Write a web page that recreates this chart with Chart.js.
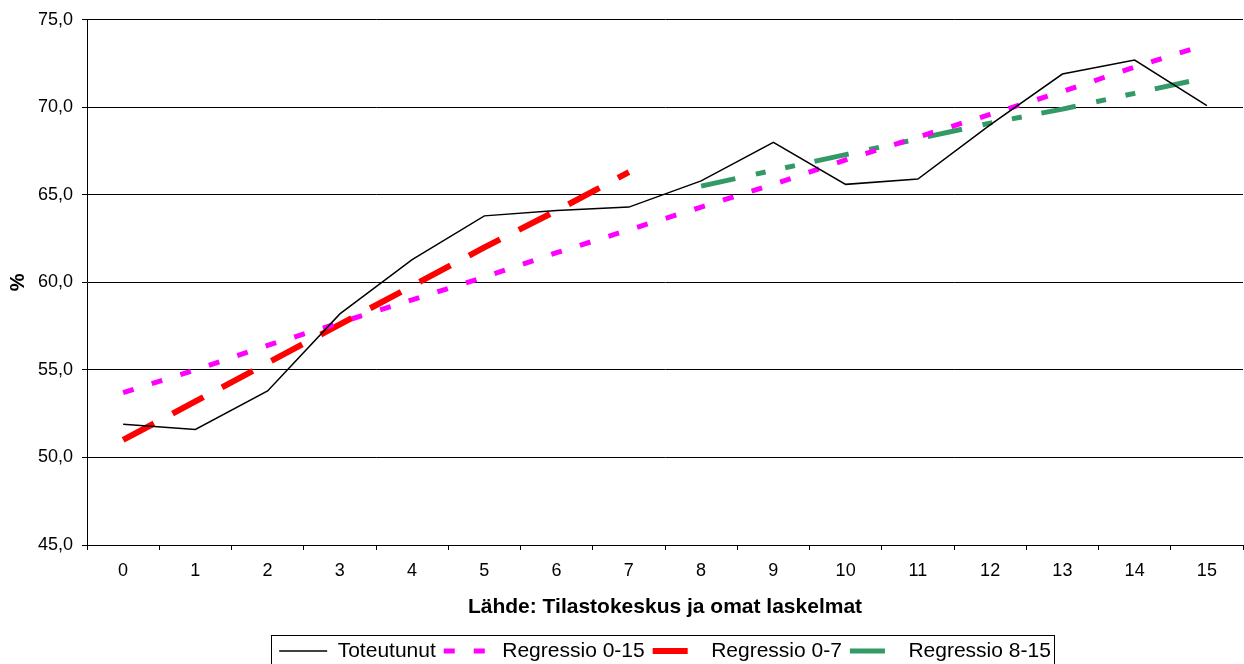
<!DOCTYPE html>
<html>
<head>
<meta charset="utf-8">
<script src="https://cdn.jsdelivr.net/npm/chart.js@4.4.0/dist/chart.umd.min.js"></script>
<style>
    html, body { margin: 0; padding: 0; background: #fff; }
    #wrap { width: 1244px; height: 664px; position: relative; }
</style>
</head>
<body>
<div id="wrap"><canvas id="chart"></canvas></div>
<script>
const categories = ["0", "1", "2", "3", "4", "5", "6", "7", "8", "9", "10", "11", "12", "13", "14", "15"];

const toteutunut = [51.9, 51.6, 53.8, 58.2, 61.3, 63.8, 64.1, 64.3, 65.8, 68.0, 65.6, 65.9, 69.0, 71.9, 72.7, 70.1];
const regressio015 = [53.7, 55.0, 56.4, 57.7, 59.0, 60.3, 61.7, 63.0, 64.3, 65.6, 67.0, 68.3, 69.6, 70.9, 72.3, 73.6];
const regressio07 = [51.0, 53.2, 55.4, 57.6, 59.8, 62.0, 64.1, 66.3, null, null, null, null, null, null, null, null];
const regressio815 = [null, null, null, null, null, null, null, null, 65.5, 66.4, 67.3, 68.2, 69.1, 69.9, 70.8, 71.7];

const yTicks = [45, 50, 55, 60, 65, 70, 75];

const FONT = "Arial, 'Liberation Sans', sans-serif";
Chart.defaults.color = "#000";
Chart.defaults.font.family = FONT;

// box around the legend, like the Excel original
const legendBorder = {
    id: "legendBorder",
    afterDraw(chart) {
        const hb = chart.legend.legendHitBoxes;
        if (!hb || !hb.length) return;
        const first = hb[0];
        const last = hb[hb.length - 1];
        const ctx = chart.ctx;
        ctx.save();
        ctx.strokeStyle = "#000";
        ctx.lineWidth = 1;
        const x = Math.round(first.left - 8) + 0.5;
        const y = Math.round(first.top - 6) + 0.5;
        ctx.strokeRect(x, y, Math.round(last.left + last.width - first.left + 11), 60);
        ctx.restore();
    }
};

new Chart(document.getElementById("chart"), {
    type: "line",
    data: {
        labels: categories,
        datasets: [
            {
                label: "Toteutunut",
                data: toteutunut,
                borderColor: "#000",
                backgroundColor: "#000",
                borderWidth: 1.5
            },
            {
                label: "Regressio 0-15",
                data: regressio015,
                borderColor: "#ff00ff",
                backgroundColor: "#ff00ff",
                borderWidth: 5,
                borderDash: [11, 19]
            },
            {
                label: "Regressio 0-7",
                data: regressio07,
                borderColor: "#ff0000",
                backgroundColor: "#ff0000",
                borderWidth: 6,
                borderDash: [35, 21]
            },
            {
                label: "Regressio 8-15",
                data: regressio815,
                borderColor: "#339966",
                backgroundColor: "#339966",
                borderWidth: 5,
                borderDash: [35, 21, 10, 20, 10, 20]
            }
        ]
    },
    options: {
        responsive: true,
        maintainAspectRatio: false,
        animation: false,
        layout: {
            padding: { top: 19, right: 1, left: 0, bottom: -7.5 }
        },
        elements: {
            point: { radius: 0, hoverRadius: 0 },
            line: { tension: 0, borderCapStyle: "butt" }
        },
        plugins: {
            tooltip: { enabled: false },
            legend: {
                position: "bottom",
                fullSize: false,
                labels: {
                    usePointStyle: true,
                    pointStyle: "line",
                    pointStyleWidth: 48,
                    padding: 8,
                    color: "#000",
                    font: { size: 21, family: FONT },
                    generateLabels(chart) {
                        const items = Chart.defaults.plugins.legend.labels.generateLabels(chart);
                        items.forEach((item, i) => {
                            const ds = chart.data.datasets[i];
                            item.lineWidth = ds.borderWidth;
                            item.lineDash = ds.borderDash || [];
                            item.strokeStyle = ds.borderColor;
                            item.fillStyle = ds.borderColor;
                        });
                        return items;
                    }
                }
            }
        },
        scales: {
            x: {
                offset: true,
                grid: {
                    offset: true,
                    drawOnChartArea: true,
                    tickLength: 5,
                    tickColor: "#000",
                    color: (ctx) => ctx.index === categories.length ? "#000" : "rgba(0,0,0,0)"
                },
                border: { color: "#000", width: 1 },
                ticks: {
                    padding: 10,
                    maxRotation: 0,
                    font: { size: 18, family: FONT }
                },
                title: {
                    display: true,
                    text: "Lähde: Tilastokeskus ja omat laskelmat",
                    font: { size: 21, weight: "bold", family: FONT },
                    padding: { top: 0, bottom: 13 }
                },
                afterFit(scale) {
                    scale.height = 87.5;
                }
            },
            y: {
                min: 45,
                max: 75,
                afterBuildTicks(scale) {
                    scale.ticks = yTicks.map(v => ({ value: v }));
                },
                grid: {
                    color: "#000",
                    tickLength: 5,
                    tickColor: "#000"
                },
                border: { color: "#000", width: 1 },
                ticks: {
                    padding: 9,
                    font: { size: 18, family: FONT },
                    callback: (v) => Number(v).toFixed(1).replace(".", ",")
                },
                title: {
                    display: true,
                    text: "%",
                    font: { size: 20, weight: "bold", family: FONT },
                    padding: { top: 6, bottom: 0 }
                },
                afterFit(scale) {
                    scale.width = 87;
                }
            }
        }
    },
    plugins: [legendBorder]
});
</script>
</body>
</html>
